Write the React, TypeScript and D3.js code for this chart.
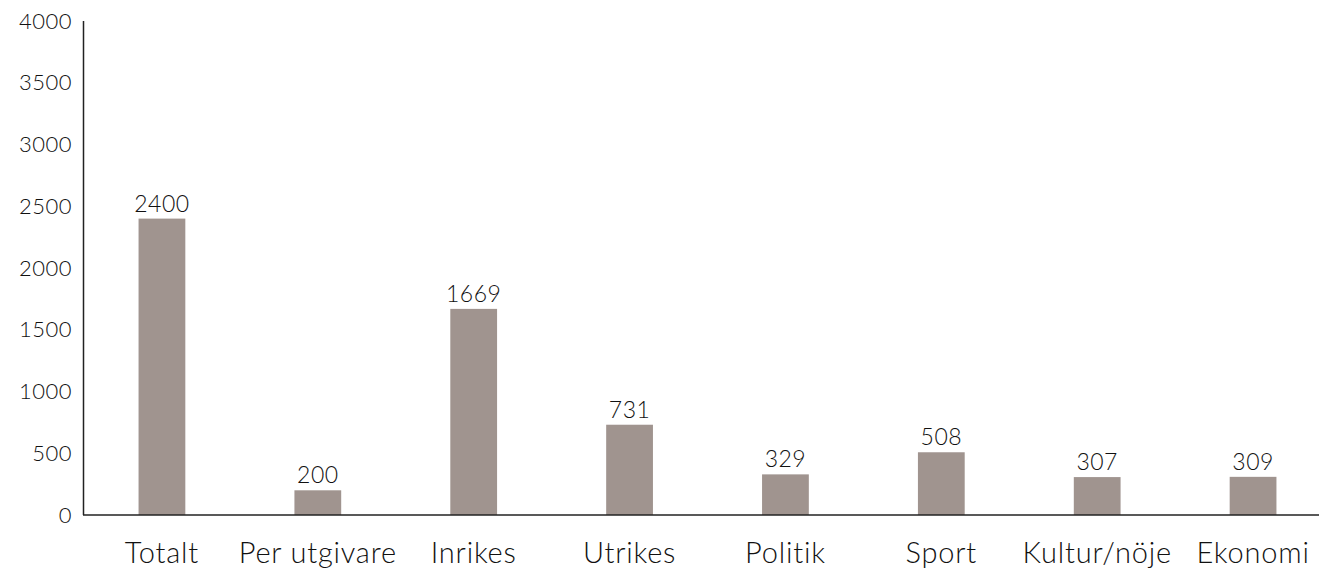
import React, { useEffect, useRef } from "react";
import * as d3 from "d3";

const categories = ["Totalt", "Per utgivare", "Inrikes", "Utrikes", "Politik", "Sport", "Kultur/nöje", "Ekonomi"];
const values = [2400, 200, 1669, 731, 329, 508, 307, 309];
const yTicks = [0, 500, 1000, 1500, 2000, 2500, 3000, 3500, 4000];

const W = 1319;
const H = 572;
const FONT = "Lato, 'Open Sans', sans-serif";

export default function App() {
  const ref = useRef<SVGSVGElement>(null);
  useEffect(() => {
    const svg = d3.select(ref.current);
    svg.selectAll("*").remove();
    const x = d3.scaleBand<string>().domain(categories).range([84, 1331]).padding(0);
    const y = d3.scaleLinear().domain([0, 4000]).range([515, 21]);
    const bw = x.bandwidth() * 0.3;

    svg
      .selectAll("rect.bar")
      .data(values)
      .enter()
      .append("rect")
      .attr("x", (_, i) => x(categories[i])! + x.bandwidth() / 2 - bw / 2)
      .attr("y", (d) => y(d))
      .attr("width", bw)
      .attr("height", (d) => y(0) - y(d))
      .attr("fill", "#a0948f");

    svg
      .selectAll("text.val")
      .data(values)
      .enter()
      .append("text")
      .attr("x", (_, i) => x(categories[i])! + x.bandwidth() / 2)
      .attr("y", (d) => y(d) - 7)
      .attr("text-anchor", "middle")
      .attr("font-family", FONT)
      .attr("font-weight", 300)
      .attr("font-size", 23)
      .attr("letter-spacing", 0.5)
      .attr("fill", "#111")
      .text((d) => String(d));

    svg
      .selectAll("text.cat")
      .data(categories)
      .enter()
      .append("text")
      .attr("x", (d) => x(d)! + x.bandwidth() / 2)
      .attr("y", 563)
      .attr("text-anchor", "middle")
      .attr("font-family", FONT)
      .attr("font-weight", 300)
      .attr("font-size", 29)
      .attr("letter-spacing", 0.8)
      .attr("fill", "#111")
      .text((d) => d);

    svg
      .selectAll("text.tick")
      .data(yTicks)
      .enter()
      .append("text")
      .attr("x", 72)
      .attr("y", (d) => y(d))
      .attr("dy", "0.35em")
      .attr("text-anchor", "end")
      .attr("font-family", FONT)
      .attr("font-weight", 300)
      .attr("font-size", 22)
      .attr("letter-spacing", 0.5)
      .attr("fill", "#111")
      .text((d) => String(d));

    svg
      .append("line")
      .attr("x1", 83.5)
      .attr("x2", 83.5)
      .attr("y1", y(4000))
      .attr("y2", y(0))
      .attr("stroke", "#222")
      .attr("stroke-width", 1.5);
    svg
      .append("line")
      .attr("x1", 83)
      .attr("x2", 1331)
      .attr("y1", y(0))
      .attr("y2", y(0))
      .attr("stroke", "#222")
      .attr("stroke-width", 1.5);
  }, []);
  return (
    <svg
      ref={ref}
      width={W}
      height={H}
      style={{ position: "absolute", left: 0, top: 0, background: "#fff" }}
    />
  );
}
